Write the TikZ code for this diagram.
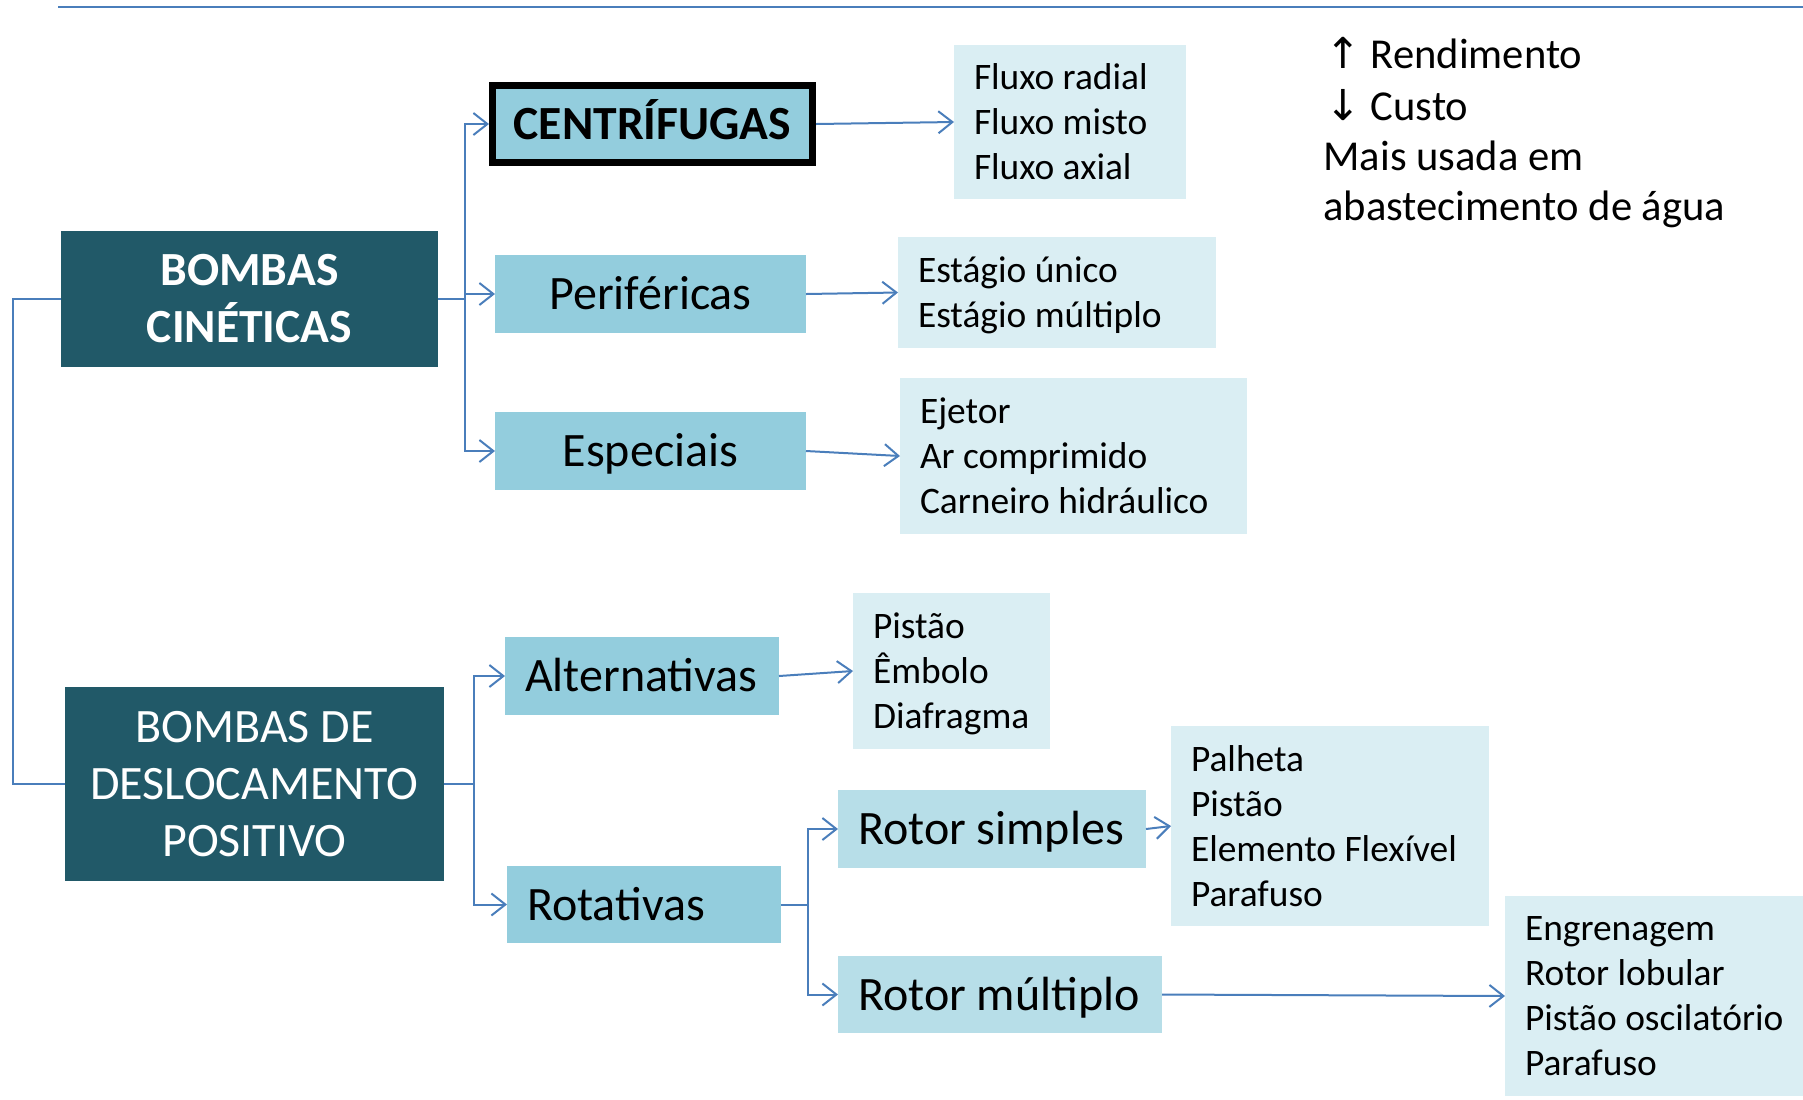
\documentclass[tikz,border=0pt]{standalone}
\usepackage{fontspec}
\setmainfont{Carlito}
\newfontfamily\arrowfont{DejaVu Sans}
\usetikzlibrary{arrows.meta}
\definecolor{darkbox}{HTML}{215968}
\definecolor{midbox}{HTML}{93CDDD}
\definecolor{ltbox}{HTML}{B7DEE8}
\definecolor{listbox}{HTML}{DAEEF3}
\definecolor{connc}{HTML}{4A7EBB}
\begin{document}
\begin{tikzpicture}[x=0.5pt,y=-0.5pt,
  conn/.style={draw=connc, line width=1pt, -{Straight Barb[length=7pt,width=11pt,line width=1pt]}},
  plain/.style={draw=connc, line width=1pt},
  basebox/.style={rectangle, inner ysep=0pt, outer sep=0pt},
  darkn/.style={basebox, fill=darkbox, text=white, align=center, font=\fontsize{24}{28.5}\selectfont},
  midn/.style={basebox, fill=midbox, text=black, inner xsep=0pt, text height=15.3pt, text depth=0pt, font=\fontsize{24}{28}\selectfont},
  midl/.style={basebox, fill=midbox, text=black, inner xsep=10pt, align=flush left, text height=15.5pt, text depth=0pt, font=\fontsize{24}{28}\selectfont},
  ltl/.style={midl, fill=ltbox},
  listn/.style={basebox, fill=listbox, text=black, inner xsep=10pt, align=flush left, font=\fontsize{18.7}{22.5}\selectfont},
  sidetext/.style={anchor=base west, inner sep=0pt, font=\fontsize{21.3}{25.5}\selectfont}
]
\useasboundingbox (0,0) rectangle (1803,1099);

% top rule
\draw[connc, line width=1.25pt] (58,7) -- (1803,7);

% main nodes
\node[darkn, minimum width=188.5pt, minimum height=68pt, font=\fontsize{23.8}{28.5}\selectfont\bfseries] (bc) at (249.5,299) {BOMBAS\\CINÉTICAS};
\node[darkn, minimum width=189.5pt, minimum height=97pt] (bdp) at (254.5,784) {BOMBAS DE\\DESLOCAMENTO\\POSITIVO};

\node[midn, draw=black, line width=3.5pt, outer sep=1.75pt, minimum width=160pt, minimum height=38.5pt, font=\fontsize{23.8}{28}\selectfont\bfseries] (cent) at (652.5,124) {CENTRÍFUGAS};
\node[midn, minimum width=155.5pt, minimum height=39pt] (perif) at (650.5,294) {Periféricas};
\node[midn, minimum width=155.5pt, minimum height=39pt] (espec) at (650.5,451) {Especiais};

\node[midl, text width=117pt, minimum height=39pt] (alt) at (642,676) {Alternativas};
\node[midl, text width=117pt, minimum height=38.5pt] (rot) at (644,904.5) {Rotativas};
\node[ltl, text width=134pt, minimum height=39pt] (rs) at (992,829) {\mbox{Rotor simples}};
\node[ltl, text width=142pt, minimum height=38.5pt] (rm) at (1000,994.5) {\mbox{Rotor múltiplo}};

% lists
\node[listn, text width=96pt, minimum height=77pt] (fluxo) at (1070,122) {\mbox{Fluxo radial}\\\mbox{Fluxo misto}\\\mbox{Fluxo axial}};
\node[listn, text width=139pt, minimum height=55.5pt] (estagio) at (1057,292.5) {\mbox{Estágio único}\\\smash{\mbox{Estágio múltiplo}}};
\node[listn, text width=153.5pt, minimum height=78pt] (ejetor) at (1073.5,456) {Ejetor\\\mbox{Ar comprimido}\\\mbox{Carneiro hidráulico}};
\node[listn, text width=78.5pt, minimum height=78pt] (pistao) at (951.5,671) {Pistão\\Êmbolo\\\smash{Diafragma}};
\node[listn, text width=139pt, minimum height=100pt] (palheta) at (1330,826) {Palheta\\Pistão\\\mbox{Elemento Flexível}\\Parafuso};
\node[listn, text width=129pt, minimum height=100pt] (engr) at (1654,996) {Engrenagem\\\mbox{Rotor lobular}\\\mbox{Pistão oscilatório}\\Parafuso};

% side text
\node[sidetext] (r1) at (1325,68) {{\arrowfont ↑} Rendimento};
\node[sidetext] (r2) at (1325,120) {{\arrowfont ↓} Custo};
\node[sidetext] (r3) at (1323,170) {Mais usada em};
\node[sidetext] (r4) at (1323,220) {abastecimento de água};

% connectors
\draw[plain] (bc.west) -- ++(-48,0) |- (bdp.west);

\draw[conn] (bc.east) -- ++(27,0) |- (cent.west);
\draw[conn] (bc.east) -- ++(27,0) |- (perif.west);
\draw[conn] (bc.east) -- ++(27,0) |- (espec.west);

\draw[conn] (bdp.east) -- ++(30,0) |- (alt.west);
\draw[conn] (bdp.east) -- ++(30,0) |- (rot.west);

\draw[conn] (rot.east) -- ++(27,0) |- (rs.west);
\draw[conn] (rot.east) -- ++(27,0) |- (rm.west);

\draw[conn] (cent.east) -- (fluxo.west);
\draw[conn] (perif.east) -- (estagio.west);
\draw[conn] (espec.east) -- (ejetor.west);
\draw[conn] (alt.east) -- (pistao.west);
\draw[conn] (rs.east) -- (palheta.west);
\draw[conn] (rm.east) -- (engr.west);
\end{tikzpicture}
\end{document}
